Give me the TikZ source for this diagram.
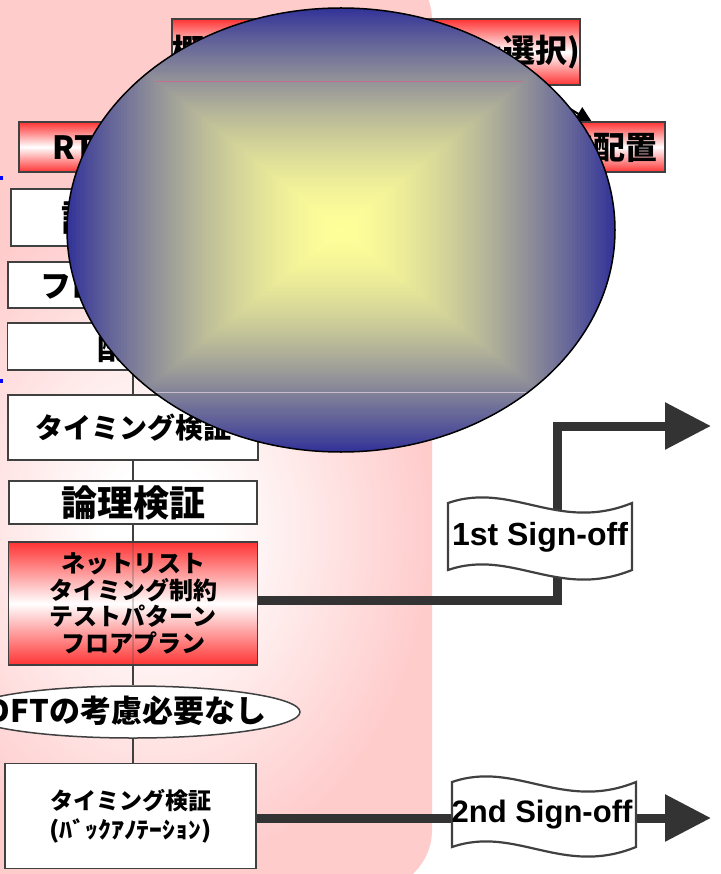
\documentclass[tikz,border=0pt]{standalone}
\usepackage{fontspec}
\usepackage{graphicx}
\setmainfont{Liberation Sans}
\newfontfamily\jp{Noto Sans CJK JP}
\usetikzlibrary{arrows.meta,shapes.geometric}
\pgfdeclarelayer{back}
\pgfdeclarelayer{bg}
\pgfsetlayers{back,bg,main}
\definecolor{pinkc}{RGB}{255,204,204}
\definecolor{boxred}{RGB}{255,51,51}
\definecolor{edgec}{RGB}{64,64,64}
\definecolor{arrowc}{RGB}{51,51,51}
\definecolor{ellblue}{RGB}{51,51,153}
\definecolor{ellyellow}{RGB}{255,255,153}
\pgfdeclareradialshading{pinkglow}{\pgfpoint{0bp}{0bp}}{color(0bp)=(white); color(5bp)=(white); color(25bp)=(pinkc); color(50bp)=(pinkc)}
\begin{document}
\begin{tikzpicture}[x=1pt,y=-1pt,
  redbox/.style={draw=edgec, line width=1.8pt, top color=boxred, bottom color=boxred, middle color=white, inner sep=0pt},
  whitebox/.style={draw=edgec, line width=1.8pt, fill=white, inner sep=0pt},
  jpf/.style={font=\jp\bfseries\fontsize{#1}{#1}\selectfont},
  trunk/.style={draw=edgec, line width=1.5pt},
  bigarrow/.style={draw=arrowc, line width=9pt, -{Triangle[length=46pt,width=45pt]}},
  bannerline/.style={draw=edgec, fill=white, line width=2.2pt},
  signtext/.style={font=\bfseries\fontsize{#1}{#1}\selectfont, inner sep=0pt}
]
\useasboundingbox (0,0) rectangle (720,874);

% pink background panel
\begin{pgfonlayer}{back}
\fill[white] (0,0) rectangle (720,874);
\fill[pinkc, rounded corners=60pt] (-80,-40) rectangle (432,890);
\begin{scope}
\clip[rounded corners=60pt] (-80,-40) rectangle (432,890);
\shade[shading=pinkglow] (160,530) ellipse [x radius=270, y radius=340];
\end{scope}
\fill[blue] (0,176) rectangle (2.5,180);
\fill[blue] (0,379) rectangle (2.5,383);
\end{pgfonlayer}

% boxes
\node[redbox, minimum width=408pt, minimum height=66pt, jpf=32] (top) at (376,52) {概略検討(テクノロジー選択)};
\node[redbox, minimum width=646pt, minimum height=50pt, jpf=32] (rtl) at (342,147) {\hspace*{26pt}RTL設計・論理合成・DFT設計・概略配置};
\node[whitebox, minimum width=244pt, minimum height=57pt, jpf=36] (A) at (133,217.5) {詳細設計};
\node[whitebox, minimum width=250pt, minimum height=46pt, jpf=31] (B) at (133,285) {フロアプラン};
\node[whitebox, minimum width=251pt, minimum height=47pt, jpf=36] (C) at (133,346.5) {配置};
\node[whitebox, minimum width=250pt, minimum height=65pt, jpf=28] (D) at (133,427.5) {タイミング検証};
\node[whitebox, minimum width=248pt, minimum height=43pt, jpf=36] (E) at (133,502.5) {論理検証};
\node[redbox, minimum width=249pt, minimum height=123pt, align=center, font=\jp\bfseries\fontsize{24}{26.5}\selectfont] (F) at (133,603.5) {ネットリスト\\タイミング制約\\テストパターン\\フロアプラン};
\node[ellipse, draw=edgec, line width=1.5pt, fill=white, minimum width=334pt, minimum height=52pt, inner sep=0pt] (G) at (133,712) {};
\node[jpf=31, inner sep=0pt] (Gt) at (127,711) {DFTの考慮必要なし};
\node[whitebox, minimum width=251pt, minimum height=105pt, align=center, font=\jp\bfseries\fontsize{23}{29}\selectfont] (H) at (130.5,816) {タイミング検証\\\scalebox{1.12}[1]{(ﾊﾞｯｸｱﾉﾃｰｼｮﾝ)}};

% connectors
\coordinate (ts) at (530,85);
\coordinate (rn) at (592,122);
\coordinate (k1) at (557,600);
\coordinate (k2) at (557,426);
\coordinate (a1) at (711,426);
\coordinate (a2) at (711,818);
\begin{pgfonlayer}{bg}
\draw[line width=2pt, -{Triangle[length=16pt,width=15pt]}] (ts) -- (rn);
\draw[trunk] (rtl.south -| A.north) -- (A.north);
\draw[trunk] (A.south) -- (B.north);
\draw[trunk] (B.south) -- (C.north);
\draw[trunk] (C.south) -- (D.north);
\draw[trunk] (D.south) -- (E.north);
\draw[trunk] (E.south) -- (F.north);
\draw[trunk] (F.south) -- (G.north);
\draw[trunk] (G.south) -- (G.south |- H.north);
\draw[bigarrow] (k1 -| F.east) -- (k1) -- (k2) -- (a1);
\draw[bigarrow] (a2 -| H.east) -- (a2);
\end{pgfonlayer}
\draw[trunk, opacity=0.25] (F.north) -- (F.south);

% sign-off banners
\draw[bannerline] (448,503) .. controls (512,481) and (558,533) .. (632,503)
  -- (632,570) .. controls (558,600) and (512,548) .. (448,570) -- cycle;
\node[signtext=32] (s1) at (540,537) {1st Sign-off};
\draw[bannerline] (452,782) .. controls (516,760) and (562,812) .. (636,782)
  -- (636,847) .. controls (562,877) and (516,825) .. (452,847) -- cycle;
\node[signtext=31] (s2) at (542,815) {2nd Sign-off};

% big covering ellipse with rectangular gradient
\begin{scope}
\clip (341,230) ellipse [x radius=274, y radius=222];
\foreach \i in {0,...,100}{
  \pgfmathsetmacro\tt{1-\i/100}
  \pgfmathsetmacro\hw{274*\tt+0.6}
  \pgfmathsetmacro\hh{222*\tt+0.6}
  \pgfmathsetmacro\pp{100*(1-\tt^1.6)}
  \fill[ellyellow!\pp!ellblue] ({341-\hw},{230-\hh}) rectangle ({341+\hw},{230+\hh});
}
\draw[color={rgb,255:red,200;green,110;blue,140}, line width=0.7pt] (156,81) -- (523,81);
\draw[color={rgb,255:red,200;green,190;blue,205}, line width=0.7pt] (150,392) -- (532,392);
\end{scope}
\node[ellipse, draw=black, line width=1.5pt, minimum width=548pt, minimum height=444pt, inner sep=0pt] (cover) at (341,230) {};
\end{tikzpicture}
\end{document}
